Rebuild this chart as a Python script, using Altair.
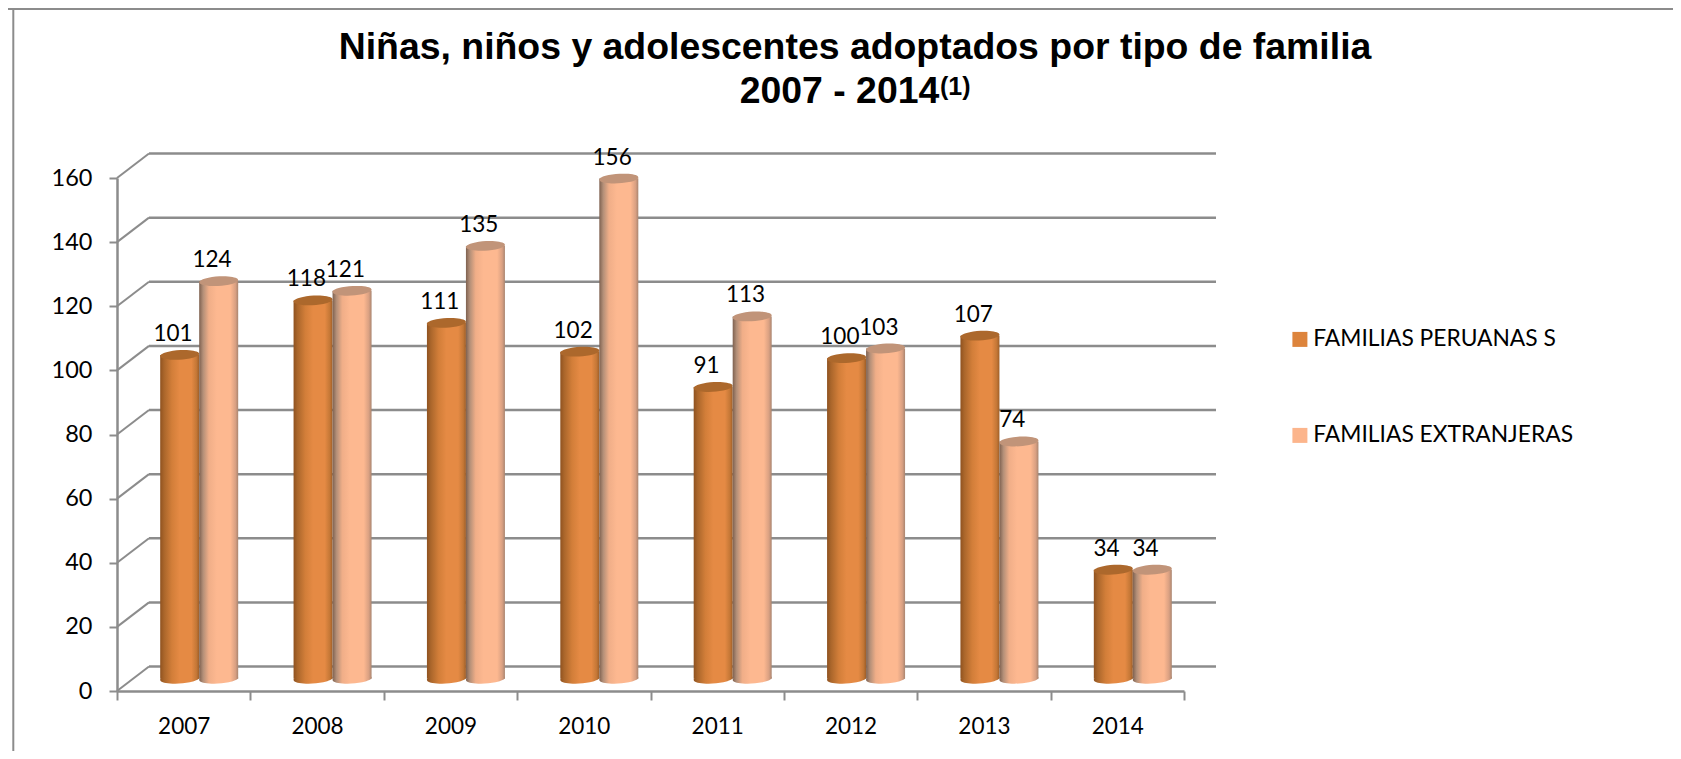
import altair as alt
import pandas as pd

years = ["2007", "2008", "2009", "2010", "2011", "2012", "2013", "2014"]
peruanas = [101, 118, 111, 102, 91, 100, 107, 34]
extranjeras = [124, 121, 135, 156, 113, 103, 74, 34]
series_names = ["FAMILIAS PERUANAS S", "FAMILIAS EXTRANJERAS"]
legend_colors = ["#DD843C", "#FCB58C"]
cap_colors = ["#AC682C", "#C19479"]
grid_values = [0, 20, 40, 60, 80, 100, 120, 140, 160]

FONT = "Lato"
GREY = "#8C8C8C"
W, H = 1067, 513
PAD_L, PAD_T = 109, 170
TOTAL_W, TOTAL_H = 1665, 743
DX, DY = 32, 24.5            # depth of the fake 3D floor, in pixels
UNIT = H / 160
BAR_W = 39
MID = -DY / 2               # bars stand halfway across the floor
CAP = "M-1,.06A1.002,.24 -3.4 1 1 1,-.06A1.002,.24 -3.4 1 1 -1,.06Z"
CAP_SIZE = BAR_W ** 2

def grad(stops):
    return alt.Gradient(
        gradient="linear", x1=0, x2=1, y1=0, y2=0,
        stops=[alt.GradientStop(offset=o, color=c) for o, c in stops],
    )

grad_dark = grad([(0, "#8F5220"), (.1, "#AA662B"), (.3, "#D27E39"), (.5, "#E58A44"),
                  (.8, "#E58A44"), (.93, "#C47736"), (1, "#9E5E28")])
grad_light = grad([(0, "#7E6150"), (.1, "#B38F78"), (.25, "#F0AE88"), (.45, "#FDB890"),
                   (.8, "#FDB890"), (.93, "#D9A082"), (1, "#A98570")])

df = pd.DataFrame({
    "year": years * 2,
    "series": [series_names[0]] * 8 + [series_names[1]] * 8,
    "value": peruanas + extranjeras,
    "zero": [0] * 16,
})
dark = df[df.series == series_names[0]]
light = df[df.series == series_names[1]]
grid = pd.DataFrame({"v": grid_values, "v2": [v + DY / UNIT for v in grid_values]})

x = alt.X(
    "year:N", title=None, sort=years,
    scale=alt.Scale(type="band", paddingInner=0, paddingOuter=0),
    axis=alt.Axis(labelAngle=0, labelFont=FONT, labelFontSize=22.5, labelColor="black",
                  labelPadding=15, tickSize=9, tickWidth=2, tickColor=GREY, tickBand="extent",
                  domainColor=GREY, domainWidth=2.5, grid=False),
)
y_axis = alt.Axis(values=grid_values, labelFont=FONT, labelFontSize=23.5, labelColor="black",
                  labelPadding=17, tickSize=8, tickWidth=2, tickColor=GREY,
                  domainColor=GREY, domainWidth=2.5, grid=False)
y_scale = alt.Scale(domain=[0, 160], nice=False)
y = alt.Y("value:Q", title=None, scale=y_scale, axis=y_axis)
y_grid = alt.Y("v:Q", title=None, scale=y_scale, axis=y_axis)

# frame of the chart: only its top and left edges lie inside the picture
frame_top = alt.Chart(grid.head(1)).mark_rule(color=GREY, strokeWidth=2).encode(
    x=alt.value(-PAD_L), x2=alt.value(TOTAL_W - PAD_L), y=alt.value(-PAD_T + 1))
frame_left = alt.Chart(grid.head(1)).mark_rule(color=GREY, strokeWidth=2).encode(
    x=alt.value(-103.7), y=alt.value(-PAD_T), y2=alt.value(TOTAL_H - PAD_T))

back = alt.Chart(grid).mark_rule(color=GREY, strokeWidth=2.5, yOffset=-DY).encode(
    x=alt.value(DX), x2=alt.value(W + DX), y=y_grid)
side = alt.Chart(grid).mark_rule(color=GREY, strokeWidth=2).encode(
    x=alt.value(0), x2=alt.value(DX), y=y_grid, y2="v2:Q")


def cylinder(data, fill, cap, off):
    body = alt.Chart(data).mark_bar(
        width=BAR_W, xOffset=off, yOffset=MID, y2Offset=MID, fill=fill, stroke=None
    ).encode(x=x, y=y, y2=alt.Y2("zero:Q"))
    base = alt.Chart(data).mark_point(
        shape=CAP, size=CAP_SIZE, filled=True, fill=fill, opacity=1, strokeWidth=0,
        xOffset=off, yOffset=MID,
    ).encode(x=x, y=alt.Y("zero:Q", title=None, scale=y_scale, axis=y_axis))
    top = alt.Chart(data).mark_point(
        shape=CAP, size=CAP_SIZE, filled=True, fill=cap, opacity=1, strokeWidth=0,
        xOffset=off, yOffset=MID,
    ).encode(x=x, y=y)
    return [base, body, top]


legend_bars = alt.Chart(df).mark_bar(width=1, opacity=0.001).encode(
    x=x, y=y,
    color=alt.Color(
        "series:N", sort=series_names,
        scale=alt.Scale(domain=series_names, range=legend_colors),
        legend=alt.Legend(
            title=None, orient="none", legendX=1171.5, legendY=150,
            symbolType="square", symbolSize=225, symbolOpacity=1, symbolStrokeWidth=0,
            labelFont=FONT, labelFontSize=22.8, labelColor="black", labelOffset=2,
            labelLimit=500, rowPadding=72, padding=0,
        ),
    ),
)


def labels(data, dx):
    return alt.Chart(data).mark_text(
        font=FONT, fontSize=22.5, color="black", align="center", baseline="alphabetic",
        dx=dx, dy=MID - 14,
    ).encode(x=x, y=y, text="value:Q")


title_rows = pd.DataFrame({
    "t": ["Niñas, niños y adolescentes adoptados por tipo de familia", "2007 - 2014", "(1)"],
})


def title_text(i, px, py, size, align):
    return alt.Chart(title_rows.iloc[[i]]).mark_text(
        font="Liberation Sans", fontWeight="bold", fontSize=size, color="black",
        align=align, baseline="alphabetic",
    ).encode(x=alt.value(px), y=alt.value(py), text="t:N")


layers = [frame_top, frame_left, back, side, legend_bars]
layers += cylinder(dark, grad_dark, cap_colors[0], -4)
layers += cylinder(light, grad_light, cap_colors[1], 35)
layers += [labels(dark, -10.7), labels(light, 28.3)]
layers += [
    title_text(0, 738, -119, 37.4, "center"),
    title_text(1, 722.5, -75, 37.4, "center"),
    title_text(2, 823, -83, 25, "left"),
]

chart = alt.layer(*layers).resolve_scale(y="shared").properties(
    width=W, height=H,
    padding={"left": PAD_L, "top": PAD_T, "right": TOTAL_W - PAD_L - W, "bottom": TOTAL_H - PAD_T - H},
    autosize=alt.AutoSizeParams(type="none"),
    background="white",
).configure_view(stroke=None)

chart.save("out.html", embed_options={"renderer": "svg", "actions": False})
